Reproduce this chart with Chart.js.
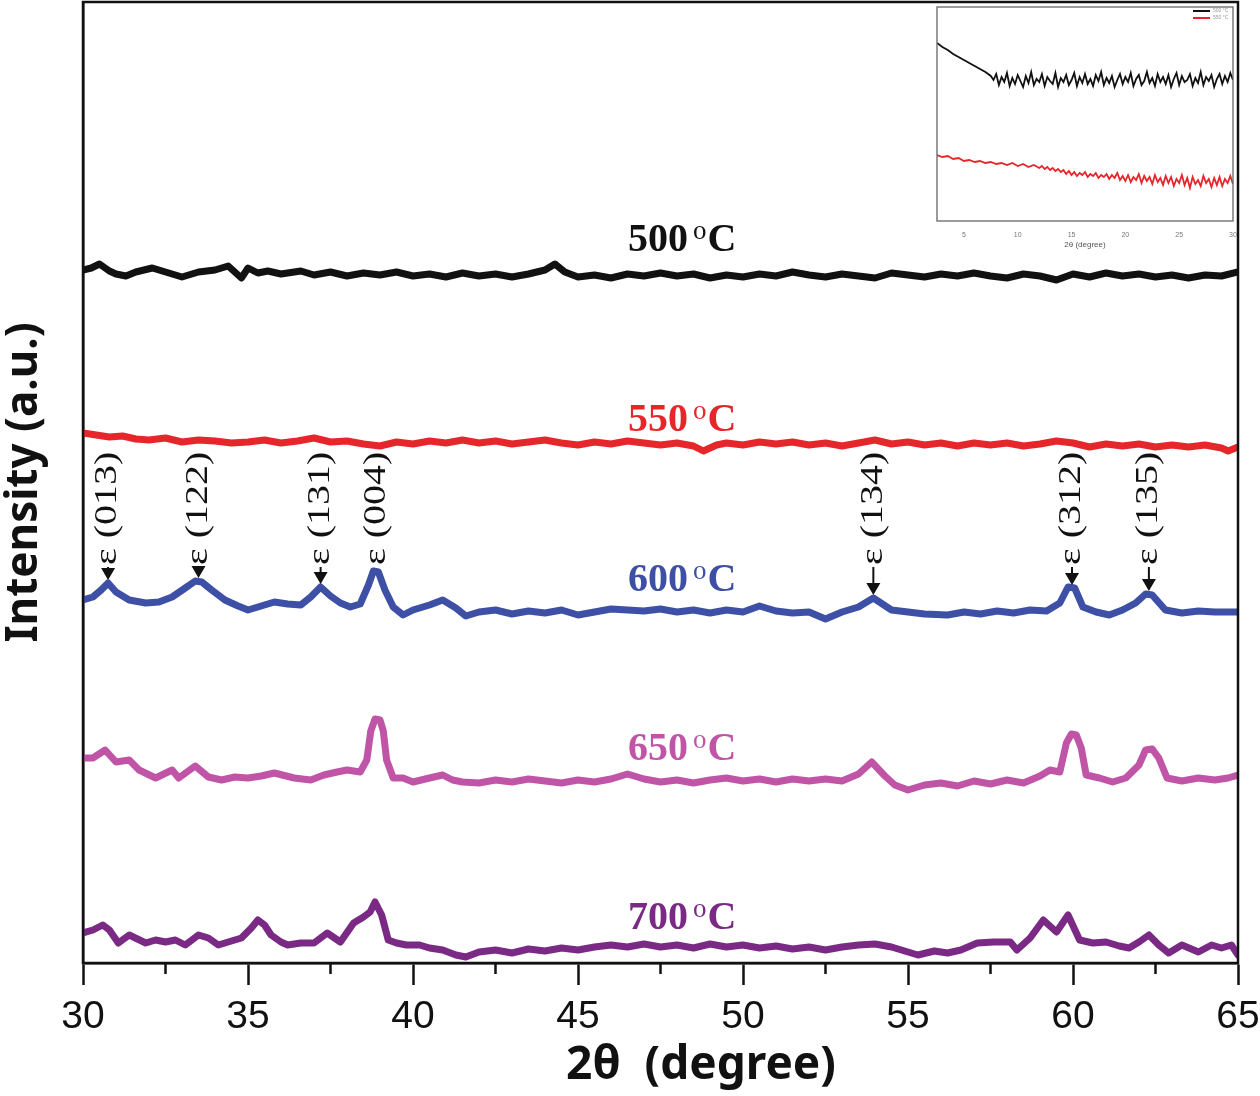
<!DOCTYPE html>
<html>
<head>
<meta charset="utf-8">
<script src="https://cdn.jsdelivr.net/npm/chart.js@4"></script>
<style>
  body { margin: 0; background: #fff; }
  #wrap { position: relative; width: 1260px; height: 1096px; }
  #xrd { position: absolute; left: 0; top: 0; }
  #inset { position: absolute; left: 930px; top: 0; }
</style>
</head>
<body>
<div id="wrap">
  <canvas id="xrd" width="1260" height="1096"></canvas>
  <canvas id="inset" width="330" height="250"></canvas>
</div>
<script>
// x axis ticks (2 theta, degree)
var xTicks = [30, 35, 40, 45, 50, 55, 60, 65];
var xMinor = [32.5, 37.5, 42.5, 47.5, 52.5, 57.5, 62.5];

// 500 C
var theta500 = [30,30.25,30.5,30.8,31,31.3,31.6,32.1,32.5,33,33.5,34,34.4,34.8,35,35.3,35.6,36,36.6,37,37.5,38,38.5,39,39.5,40,40.5,41,41.5,42,42.5,43,43.5,44,44.3,44.6,45,45.5,46,46.5,47,47.5,48,48.5,49,49.5,50,50.5,51,51.5,52,52.5,53,53.5,54,54.5,55,55.5,56,56.5,57,57.5,58,58.5,59,59.5,60,60.5,61,61.5,62,62.5,63,63.5,64,64.5,65];
var int500 = [693,695,699,692,689,687,691,695,691,686,691,693,697,685,695,690,692,689,692,688,691,687,690,688,691,687,689,686,690,687,689,686,689,693,699,691,686,688,685,689,687,690,687,689,685,688,686,689,687,691,688,686,689,687,685,690,688,686,689,687,690,687,685,689,687,683,689,686,690,687,689,686,688,685,688,687,691];

// 550 C
var theta550 = [30,30.4,30.8,31.2,31.6,32,32.5,33,33.5,34,34.5,35,35.5,36,36.5,37,37.5,38,38.5,39,39.5,40,40.5,41,41.5,42,42.5,43,43.5,44,44.5,45,45.5,46,46.5,47,47.5,48,48.5,48.8,49.2,49.5,50,50.5,51,51.5,52,52.5,53,53.5,54,54.5,55,55.5,56,56.5,57,57.5,58,58.5,59,59.5,60,60.5,61,61.5,62,62.5,63,63.5,64,64.5,64.7,65];
var int550 = [530,528,526,527,524,523,525,521,523,522,520,521,523,520,522,525,521,522,519,517,521,519,522,520,523,520,522,519,521,523,520,518,521,519,522,520,518,520,517,512,518,520,518,521,519,521,518,520,517,520,523,519,521,518,520,517,520,518,520,517,519,522,520,516,519,517,519,516,518,516,518,515,512,516];

// 600 C
var theta600 = [30,30.3,30.55,30.76,31,31.4,31.9,32.3,32.7,33.1,33.4,33.6,33.9,34.3,34.7,35,35.4,35.8,36.2,36.6,36.9,37.2,37.5,37.8,38.1,38.4,38.65,38.8,38.95,39.15,39.4,39.7,40,40.5,40.9,41.3,41.6,42,42.5,43,43.5,44,44.5,45,45.5,46,46.5,47,47.5,48,48.5,49,49.5,50,50.5,51,51.5,52,52.5,53,53.5,53.95,54.5,55,55.5,56.2,56.7,57.2,57.7,58.2,58.7,59.2,59.6,59.85,60.05,60.3,60.7,61.1,61.5,61.9,62.2,62.4,62.8,63.3,63.8,64.3,65];
var int600 = [363,366,373,380,371,363,360,361,366,375,382,381,373,363,357,353,357,361,359,358,366,376,367,360,356,359,378,392,391,373,356,348,353,358,363,355,347,351,353,349,352,350,353,348,351,354,353,352,354,351,353,350,353,351,357,352,350,351,344,351,356,365,353,351,349,348,351,349,352,350,353,352,360,376,375,356,351,348,353,360,369,368,353,350,352,351,351];

// 650 C
var theta650 = [30,30.3,30.67,31,31.4,31.7,32.2,32.7,32.9,33.4,33.8,34.2,34.6,35,35.4,35.8,36.4,36.9,37.3,37.7,38,38.4,38.6,38.72,38.85,39.0,39.1,39.2,39.4,39.7,40,40.5,40.9,41.2,41.5,42,42.5,43,43.5,44,44.5,45,45.5,46,46.5,47,47.5,48,48.5,49,49.5,50,50.5,51,51.5,52,52.5,53,53.5,53.9,54.3,54.6,55,55.5,56,56.5,57,57.5,58,58.5,59,59.3,59.6,59.8,59.95,60.1,60.25,60.4,60.8,61.2,61.6,62,62.2,62.4,62.6,62.85,63.3,63.8,64.3,64.7,65];
var int650 = [205,205,213,201,203,193,185,193,185,197,186,183,186,185,187,190,185,183,188,191,193,191,203,232,244,243,232,203,185,185,181,185,188,183,181,180,183,181,184,182,180,183,181,184,189,184,181,183,180,183,185,182,184,181,184,182,184,182,189,201,187,178,173,178,180,177,182,179,183,180,187,193,191,220,229,228,215,188,185,181,185,198,213,214,205,185,182,185,183,185,188];

// 700 C
var theta700 = [30,30.3,30.6,30.8,31.07,31.4,31.9,32.2,32.5,32.8,33.1,33.5,33.8,34.1,34.5,34.8,35.1,35.3,35.5,35.7,36,36.2,36.6,37,37.4,37.8,38.2,38.5,38.7,38.85,39.05,39.25,39.5,39.8,40.2,40.5,40.9,41.3,41.6,42,42.5,43,43.5,44,44.5,45,45.5,46,46.5,47,47.5,48,48.5,49,49.5,50,50.5,51,51.5,52,52.5,53,53.5,54,54.5,55,55.3,55.8,56.2,56.6,57.1,57.6,58.1,58.3,58.7,59.1,59.5,59.85,60.2,60.6,61,61.4,61.7,62,62.3,62.6,62.9,63.3,63.8,64.2,64.5,64.8,65];
var int700 = [30,33,38,33,20,28,20,23,21,23,18,28,25,18,22,25,35,43,38,28,21,18,20,20,30,21,40,46,51,61,48,23,20,18,18,15,13,8,6,11,13,10,14,12,15,13,16,18,16,19,16,18,15,19,16,18,15,17,14,16,13,16,18,19,16,11,8,12,10,13,20,21,21,13,25,43,31,48,23,20,21,17,15,21,28,18,10,18,11,18,15,18,8];

var seriesNames = ['500 °C', '550 °C', '600 °C', '650 °C', '700 °C'];
var seriesColors = ['#111111', '#e5262b', '#3d50a6', '#c055a8', '#7a2a85'];
var labelLevels = [725, 545, 385, 216, 47];   // where the temperature labels sit

// epsilon phase reflections marked on the 600 C pattern
var hklNames = ['(013)', '(122)', '(131)', '(004)', '(134)', '(312)', '(135)'];
var hklTheta = [30.76, 33.5, 37.2, 38.9, 53.95, 59.97, 62.3];
var hklArrow = [true, true, true, false, true, true, true];
var hklLevel = 398;

// inset: low angle scans
var insetTicks = [5, 10, 15, 20, 25, 30];
var insetThetaA = [2.5,3,3.5,4,4.5,5,5.5,6,6.5,7,7.5,
  7.75,8,8.25,8.5,8.75,9,9.25,9.5,9.75,10,10.25,10.5,10.75,11,11.25,11.5,11.75,12,12.25,12.5,12.75,13,13.25,13.5,13.75,14,14.25,14.5,14.75,15,
  15.25,15.5,15.75,16,16.25,16.5,16.75,17,17.25,17.5,17.75,18,18.25,18.5,18.75,19,19.25,19.5,19.75,20,20.25,20.5,20.75,21,21.25,21.5,21.75,22,22.25,22.5,
  22.75,23,23.25,23.5,23.75,24,24.25,24.5,24.75,25,25.25,25.5,25.75,26,26.25,26.5,26.75,27,27.25,27.5,27.75,28,28.25,28.5,28.75,29,29.25,29.5,29.75,30];
var insetA = [178,174,171,167,164,161,158,155,152,149,145,
  141,147,136,144,139,148,135,143,137,146,140,134,145,138,149,136,142,139,147,135,144,140,137,148,134,143,139,146,136,141,
  148,135,144,138,147,137,142,135,146,140,149,136,143,138,145,134,141,147,137,144,139,148,135,142,146,136,140,149,138,143,
  135,147,139,144,137,146,134,142,148,136,145,139,141,147,135,143,138,149,136,144,140,146,134,142,147,137,145,139,148,141];
var insetThetaB = [2.5,3,3.5,4,4.5,5,5.5,6,6.5,7,7.5,8,8.5,9,9.5,10,10.5,11,11.5,12,
  12.25,12.5,12.75,13,13.25,13.5,13.75,14,14.25,14.5,14.75,15,15.25,15.5,15.75,16,16.25,16.5,16.75,17,17.25,17.5,17.75,18,
  18.25,18.5,18.75,19,19.25,19.5,19.75,20,20.25,20.5,20.75,21,21.25,21.5,21.75,22,22.25,22.5,22.75,23,23.25,23.5,23.75,24,
  24.25,24.5,24.75,25,25.25,25.5,25.75,26,26.25,26.5,26.75,27,27.25,27.5,27.75,28,28.25,28.5,28.75,29,29.25,29.5,29.75,30];
var insetB = [66,64,65,62,63,60,61,59,60,58,59,57,58,56,58,55,57,54,56,53,
  55,52,54,51,53,50,52,49,51,47,50,46,49,45,48,46,49,44,47,45,48,43,46,44,
  47,42,46,43,48,41,45,40,46,39,44,41,47,38,45,40,44,37,46,39,43,36,45,38,
  44,35,42,38,46,36,43,33,44,37,41,35,45,38,42,34,43,36,44,35,42,38,45,37];

function pts(xs, ys) {
  return xs.map(function (x, i) { return {x: x, y: ys[i]}; });
}
function nearest(xs, ys, t) {
  var best = 0;
  for (var i = 1; i < xs.length; i++) {
    if (Math.abs(xs[i] - t) < Math.abs(xs[best] - t)) best = i;
  }
  return ys[best];
}

var allTheta = [theta500, theta550, theta600, theta650, theta700];
var allInt = [int500, int550, int600, int650, int700];

var decor = {
  id: 'decor',
  afterDraw: function (chart) {
    var c = chart.ctx, a = chart.chartArea;
    var xs = chart.scales.x, ys = chart.scales.y;
    c.save();
    // frame
    c.strokeStyle = '#111';
    c.lineWidth = 2.5;
    c.strokeRect(a.left, a.top, a.right - a.left, a.bottom - a.top);
    // minor ticks
    xMinor.forEach(function (v) {
      var px = xs.getPixelForValue(v);
      c.beginPath();
      c.moveTo(px, a.bottom);
      c.lineTo(px, a.bottom + 11);
      c.stroke();
    });
    // temperature labels
    seriesNames.forEach(function (name, i) {
      var parts = name.split(' °');
      var y = ys.getPixelForValue(labelLevels[i]);
      var x0 = 628;
      c.fillStyle = seriesColors[i];
      c.textBaseline = 'alphabetic';
      c.textAlign = 'left';
      c.font = "bold 40px 'Liberation Serif'";
      c.fillText(parts[0], x0, y + 13);
      var w = c.measureText(parts[0]).width;
      c.font = "27px 'Liberation Serif'";
      c.fillText('o', x0 + w + 5, y + 1);
      var wo = c.measureText('o').width;
      c.font = "bold 40px 'Liberation Serif'";
      c.fillText(parts[1], x0 + w + 6 + wo, y + 13);
    });
    // hkl markers
    c.fillStyle = '#111';
    c.strokeStyle = '#111';
    c.lineWidth = 2;
    var yLab = ys.getPixelForValue(hklLevel);
    hklNames.forEach(function (name, i) {
      var px = xs.getPixelForValue(hklTheta[i]);
      if (hklArrow[i]) {
        var tip = ys.getPixelForValue(nearest(theta600, int600, hklTheta[i])) - 3;
        c.beginPath();
        c.moveTo(px, yLab + 2);
        c.lineTo(px, tip - 10);
        c.stroke();
        c.beginPath();
        c.moveTo(px - 7, tip - 12);
        c.lineTo(px + 7, tip - 12);
        c.lineTo(px, tip);
        c.closePath();
        c.fill();
      }
      c.save();
      c.translate(px, yLab);
      c.rotate(-Math.PI / 2);
      c.scale(1.25, 1);
      c.font = "32px 'Liberation Serif'";
      c.textAlign = 'left';
      c.textBaseline = 'middle';
      c.fillText('\u03b5 ' + name, 0, 0);
      c.restore();
    });
    // x title
    c.fillStyle = '#111';
    c.font = "bold 46px 'Noto Sans'";
    c.textAlign = 'center';
    c.textBaseline = 'middle';
    c.fillText('2\u03b8  (degree)', 701, 1066);
    c.restore();
  }
};

var ctx = document.getElementById('xrd').getContext('2d');
var chart = new Chart(ctx, {
  type: 'line',
  data: {
    datasets: seriesNames.map(function (n, i) {
      return {
        label: n,
        data: pts(allTheta[i], allInt[i]),
        borderColor: seriesColors[i],
        borderWidth: 7,
        pointRadius: 0,
        tension: 0,
        borderJoinStyle: 'round',
        borderCapStyle: 'round'
      };
    })
  },
  options: {
    responsive: false,
    animation: false,
    devicePixelRatio: 1,
    layout: { padding: { left: 0, right: 22, top: 2, bottom: 0 } },
    plugins: { legend: { display: false }, tooltip: { enabled: false } },
    scales: {
      x: {
        type: 'linear',
        min: 30,
        max: 65,
        afterBuildTicks: function (s) { s.ticks = xTicks.map(function (v) { return {value: v}; }); },
        afterFit: function (s) { s.height = 133; s.paddingLeft = 0; s.paddingRight = 0; },
        grid: { drawOnChartArea: false, drawTicks: true, tickLength: 22, tickWidth: 2.5, tickColor: '#111' },
        border: { display: true, color: '#111', width: 2.5 },
        ticks: {
          color: '#111',
          padding: 9,
          maxRotation: 0,
          font: { family: "'Liberation Sans'", size: 39 }
        }
      },
      y: {
        min: 0,
        max: 961,
        afterFit: function (s) { s.width = 83; },
        grid: { display: false },
        border: { display: true, color: '#111', width: 2.5 },
        ticks: { display: false },
        title: {
          display: true,
          text: 'Intensity (a.u.)',
          color: '#111',
          padding: 0,
          font: { family: "'Noto Sans'", size: 44, weight: 'bold', lineHeight: 1.1 }
        }
      }
    }
  },
  plugins: [decor]
});

// inset
var insetDecor = {
  id: 'insetDecor',
  afterDraw: function (ch) {
    var c = ch.ctx, a = ch.chartArea;
    c.save();
    c.strokeStyle = '#666';
    c.lineWidth = 1.3;
    c.strokeRect(a.left, a.top, a.right - a.left, a.bottom - a.top);
    var lbl = ['500 °C', '550 °C'], col = ['#111', '#e5262b'];
    c.font = "5px 'Liberation Sans'";
    c.textBaseline = 'middle';
    for (var i = 0; i < 2; i++) {
      var y = 11 + i * 7;
      c.strokeStyle = col[i];
      c.lineWidth = 2;
      c.beginPath();
      c.moveTo(263, y);
      c.lineTo(280, y);
      c.stroke();
      c.fillStyle = '#999';
      c.fillText(lbl[i], 283, y);
    }
    c.restore();
  }
};

var ictx = document.getElementById('inset').getContext('2d');
var inset = new Chart(ictx, {
  type: 'line',
  data: {
    datasets: [
      { label: '500 °C', data: pts(insetThetaA, insetA), borderColor: '#111', borderWidth: 1.8, pointRadius: 0 },
      { label: '550 °C', data: pts(insetThetaB, insetB), borderColor: '#e5262b', borderWidth: 1.8, pointRadius: 0 }
    ]
  },
  options: {
    responsive: false,
    animation: false,
    devicePixelRatio: 1,
    layout: { padding: { left: 7, right: 27, top: 7, bottom: 0 } },
    plugins: { legend: { display: false }, tooltip: { enabled: false } },
    scales: {
      x: {
        type: 'linear',
        min: 2.5,
        max: 30,
        afterBuildTicks: function (s) { s.ticks = insetTicks.map(function (v) { return {value: v}; }); },
        afterFit: function (s) { s.height = 29; s.paddingLeft = 0; s.paddingRight = 0; },
        grid: { display: false },
        border: { display: false },
        ticks: { color: '#777', padding: 2, maxRotation: 0, font: { family: "'Liberation Sans'", size: 7 } },
        title: { display: true, text: '2\u03b8 (degree)', color: '#555', padding: 0, font: { family: "'Liberation Sans'", size: 8 } }
      },
      y: {
        display: false,
        min: 0,
        max: 214
      }
    }
  },
  plugins: [insetDecor]
});
</script>
</body>
</html>
